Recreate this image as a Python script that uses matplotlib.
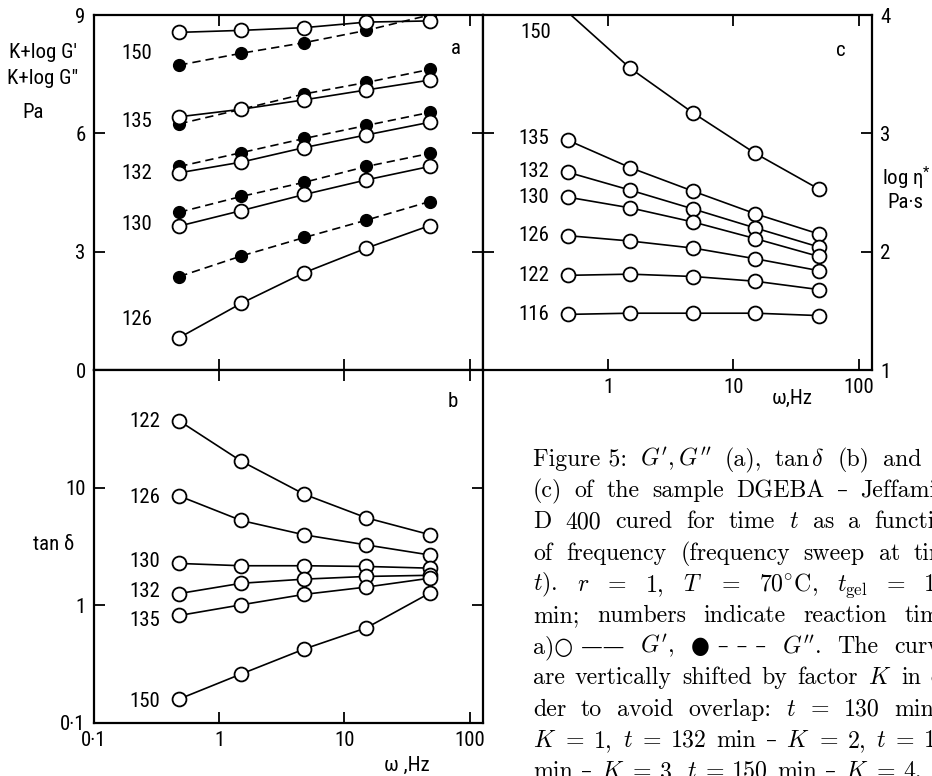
import matplotlib
matplotlib.use("Agg")
import matplotlib.pyplot as plt
from matplotlib import font_manager
from matplotlib.ticker import NullLocator

# frequency sweep (Hz)
freq = [0.48, 1.5, 4.8, 15, 48]

# panel a: K + log G' (open) and K + log G'' (filled), reaction time in min
times_a = [150, 135, 132, 130, 126]
g1_150 = [8.56, 8.61, 8.68, 8.82, 8.85]
g1_135 = [6.42, 6.61, 6.85, 7.10, 7.35]
g1_132 = [5.00, 5.27, 5.64, 5.96, 6.28]
g1_130 = [3.65, 4.04, 4.45, 4.82, 5.16]
g1_126 = [0.82, 1.69, 2.47, 3.09, 3.66]
g2_150 = [7.73, 8.03, 8.30, 8.61, 9.00]
g2_135 = [6.24, 6.61, 7.00, 7.29, 7.62]
g2_132 = [5.16, 5.51, 5.87, 6.20, 6.53]
g2_130 = [4.00, 4.40, 4.76, 5.16, 5.49]
g2_126 = [2.37, 2.89, 3.36, 3.80, 4.27]
gp_a = [g1_150, g1_135, g1_132, g1_130, g1_126]
gpp_a = [g2_150, g2_135, g2_132, g2_130, g2_126]

# panel b: tan delta
times_b = [122, 126, 130, 132, 135, 150]
tan_122 = [36.9, 16.8, 8.77, 5.54, 3.99]
tan_126 = [8.49, 5.26, 3.97, 3.26, 2.68]
tan_130 = [2.27, 2.17, 2.17, 2.14, 2.07]
tan_132 = [1.26, 1.54, 1.67, 1.76, 1.80]
tan_135 = [0.82, 1.01, 1.24, 1.43, 1.70]
tan_150 = [0.160, 0.261, 0.426, 0.644, 1.27]
tan_b = [tan_122, tan_126, tan_130, tan_132, tan_135, tan_150]

# panel c: log eta*
times_c = [150, 135, 132, 130, 126, 122, 116]
eta_150 = [4.02, 3.55, 3.17, 2.83, 2.53]
eta_135 = [2.94, 2.71, 2.51, 2.32, 2.15]
eta_132 = [2.67, 2.52, 2.36, 2.20, 2.04]
eta_130 = [2.46, 2.37, 2.25, 2.11, 1.96]
eta_126 = [2.135, 2.09, 2.03, 1.94, 1.84]
eta_122 = [1.80, 1.81, 1.79, 1.75, 1.68]
eta_116 = [1.47, 1.48, 1.48, 1.48, 1.46]
eta_c = [eta_150, eta_135, eta_132, eta_130, eta_126, eta_122, eta_116]

# where the time labels sit (y in data units)
lab_y_a = [8.03, 6.30, 4.97, 3.68, 1.27]
lab_y_b = [36.5, 8.3, 2.36, 1.31, 0.74, 0.152]
lab_y_c = [3.85, 2.96, 2.68, 2.46, 2.14, 1.80, 1.47]

caption = [
    r"Figure~5: $G',G''$ (a), $\tan\delta$ (b) and $\eta^*$",
    r"(c) of the sample DGEBA – Jeffamine",
    r"D 400 cured for time $t$ as a function",
    r"of frequency (frequency sweep at time",
    r"$t$). $r$ = 1, $T$ = 70$^{{\circ}}$C, $t_\mathrm{gel}$ = 124",
    r"min; numbers indicate reaction times",
    r"a)○~—— $G'$, ●~–~–~– $G''$. The curves",
    r"are vertically shifted by factor $K$ in or-",
    r"der to avoid overlap: $t$ = 130 min –",
    r"$K$ = 1, $t$ = 132 min – $K$ = 2, $t$ = 135",
    r"min – $K$ = 3, $t$ = 150 min – $K$ = 4.",
]


def pick_narrow():
    fl = font_manager.fontManager.ttflist
    for want in ["Liberation Sans Narrow", "Roboto Condensed", "Open Sans Condensed",
                 "Noto Sans Condensed", "DejaVu Sans Condensed"]:
        for f in fl:
            if f.name == want and f.style == "normal" and f.weight in (400, "normal", "regular"):
                return f.name, f.stretch
    for f in fl:
        if f.stretch in ("condensed", "semi-condensed") and f.style == "normal" \
                and f.weight in (400, "normal", "regular") and "Mono" not in f.name \
                and "Serif" not in f.name:
            return f.name, f.stretch
    return None, None


nm, st = pick_narrow()
if nm:
    plt.rcParams["font.family"] = [nm, "DejaVu Sans"]
    plt.rcParams["font.stretch"] = st
    FS = 15
else:
    plt.rcParams["font.family"] = "DejaVu Sans"
    FS = 13
plt.rcParams["mathtext.fontset"] = "cm"
SERIF = ["cmr10", "DejaVu Serif", "DejaVu Sans"]
CFS = 17.2

W, H = 932, 776
fig = plt.figure(figsize=(W / 100, H / 100), dpi=100)


def box(l, t, r, b):
    return [l / W, 1 - b / H, (r - l) / W, (b - t) / H]


def ftext(x, y, s, **kw):
    return fig.text(x / W, 1 - y / H, s, **kw)


def frame(ax):
    ax.set_xscale("log")
    ax.set_xlim(0.1, 128)
    for s in ax.spines.values():
        s.set_linewidth(1.6)
    ax.xaxis.set_minor_locator(NullLocator())
    ax.yaxis.set_minor_locator(NullLocator())
    ax.tick_params(which="both", direction="in", length=8, width=1.3,
                   top=True, right=True, labelsize=FS, pad=6)


open_m = dict(marker="o", ms=10, mfc="white", mec="black", mew=1.3)
fill_m = dict(marker="o", ms=8.5, mfc="black", mec="black")

# ---- panel a
ax_a = fig.add_axes(box(94, 15, 483, 370))
frame(ax_a)
ax_a.set_ylim(0, 9)
ax_a.set_xticks([1, 10, 100])
ax_a.set_yticks([0, 3, 6, 9])
ax_a.tick_params(labelbottom=False)
for t, g1, g2, ly in zip(times_a, gp_a, gpp_a, lab_y_a):
    ax_a.plot(freq, g2, color="black", lw=1.2, ls=(0, (5, 3)), **fill_m)
    ax_a.plot(freq, g1, color="black", lw=1.2, **open_m)
    ax_a.text(0.22, ly, str(t), ha="center", va="center", fontsize=FS)
ax_a.text(78, 8.16, "a", ha="center", va="center", fontsize=FS)

# ---- panel b
ax_b = fig.add_axes(box(94, 370, 483, 723))
frame(ax_b)
ax_b.set_yscale("log")
ax_b.set_ylim(0.1, 100)
ax_b.yaxis.set_minor_locator(NullLocator())
ax_b.set_xticks([0.1, 1, 10, 100])
ax_b.set_xticklabels(["0·1", "1", "10", "100"])
ax_b.set_yticks([0.1, 1, 10])
ax_b.set_yticklabels(["0·1", "1", "10"])
for t, v, ly in zip(times_b, tan_b, lab_y_b):
    ax_b.plot(freq, v, color="black", lw=1.2, **open_m)
    ax_b.text(0.255, ly, str(t), ha="center", va="center", fontsize=FS)
ax_b.text(73, 54, "b", ha="center", va="center", fontsize=FS)

# ---- panel c
ax_c = fig.add_axes(box(483, 15, 872, 370))
frame(ax_c)
ax_c.set_ylim(1, 4)
ax_c.set_xticks([1, 10, 100])
ax_c.set_xticklabels(["1", "10", "100"])
ax_c.set_yticks([1, 2, 3, 4])
ax_c.tick_params(labelleft=False, labelright=True)
for t, v, ly in zip(times_c, eta_c, lab_y_c):
    every = slice(1, None) if v[0] > 4 else None
    ax_c.plot(freq, v, color="black", lw=1.2, markevery=every, **open_m)
    ax_c.text(0.255 if t != 150 else 0.265, ly, str(t), ha="center",
              va="center", fontsize=FS)
ax_c.text(71.6, 3.70, "c", ha="center", va="center", fontsize=FS)

# ---- axis titles
ftext(43, 53, "K+log G'", ha="center", va="center", fontsize=FS)
ftext(43, 78, 'K+log G"', ha="center", va="center", fontsize=FS)
ftext(33, 113, "Pa", ha="center", va="center", fontsize=FS)
ftext(54, 545, "tan δ", ha="center", va="center", fontsize=FS)
ftext(407, 765, "ω ,Hz", ha="center", va="center", fontsize=FS)
ftext(792, 398, "ω,Hz", ha="center", va="center", fontsize=FS)
ftext(907, 178, r"log $\mathregular{\eta^{*}}$", ha="center", va="center", fontsize=FS)
ftext(905, 202, "Pa·s", ha="center", va="center", fontsize=FS)

# ---- caption, justified line by line
X0, X1, Y0, DY = 533, 960, 466, 31.2
rend = fig.canvas.get_renderer()
for i, line in enumerate(caption):
    words = [w.replace("~", " ") for w in line.split(" ")]
    objs = [fig.text(0, 0, w, fontsize=CFS, family=SERIF) for w in words]
    widths = [o.get_window_extent(rend).width for o in objs]
    if i == len(caption) - 1 or len(words) == 1:
        gap = CFS * 100 / 72 * 0.36
    else:
        gap = (X1 - X0 - sum(widths)) / (len(words) - 1)
    x = X0
    for o, w in zip(objs, widths):
        o.set_position((x / W, 1 - (Y0 + i * DY) / H))
        x += w + gap

fig.savefig("out.png", dpi=100)
